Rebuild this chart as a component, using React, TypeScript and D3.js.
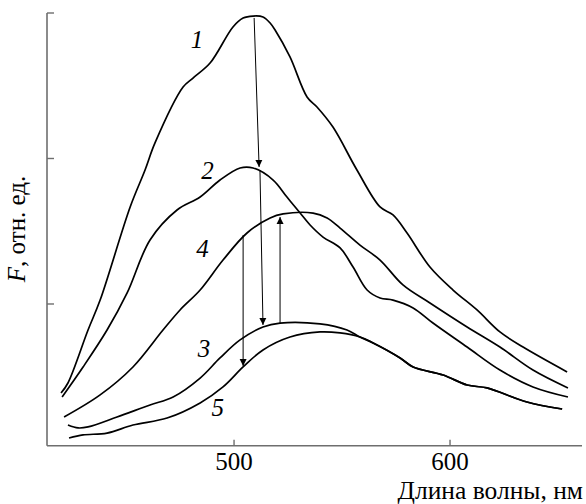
import React from "react";
import * as d3 from "d3";

// wavelength (nm) and fluorescence (rel. units) for curves 1..5
const wl1 = [419.9, 423.1, 432.4, 438.0, 451.9, 458.8, 463.4, 476.4, 481.0, 488.9, 499.5, 504.2, 508.8, 513.4, 516.7, 519.0, 525.9, 533.8, 538.4, 545.8, 556.9, 567.6, 573.6, 580.1, 590.7, 601.4, 612.5, 623.1, 633.8, 654.2];
const f1 = [0.388, 0.457, 0.821, 1.027, 1.667, 1.921, 2.107, 2.491, 2.553, 2.656, 2.904, 2.965, 2.979, 2.973, 2.931, 2.883, 2.698, 2.423, 2.354, 2.216, 1.921, 1.667, 1.612, 1.488, 1.254, 1.096, 0.959, 0.808, 0.704, 0.533];

const wl2 = [420.4, 430.1, 441.2, 450.5, 461.1, 473.6, 484.3, 493.5, 502.8, 508.8, 518.1, 524.5, 530.6, 535.2, 541.2, 549.1, 555.1, 561.6, 567.6, 573.6, 582.9, 592.1, 607.9, 623.1, 638.4, 654.6];
const f2 = [0.361, 0.567, 0.821, 1.076, 1.440, 1.646, 1.735, 1.852, 1.935, 1.935, 1.852, 1.735, 1.625, 1.543, 1.460, 1.385, 1.254, 1.096, 1.041, 1.027, 0.973, 0.869, 0.704, 0.546, 0.430, 0.361];

const wl3 = [423.1, 427.8, 432.4, 445.8, 461.1, 471.8, 484.3, 493.5, 502.8, 513.4, 521.3, 539.8, 552.3, 558.3, 564.4, 576.9, 582.9, 596.8, 607.9, 617.1, 635.6, 651.9];
const f3 = [0.168, 0.148, 0.155, 0.223, 0.306, 0.361, 0.491, 0.629, 0.753, 0.842, 0.869, 0.863, 0.821, 0.773, 0.732, 0.629, 0.567, 0.512, 0.443, 0.423, 0.326, 0.278];

const wl4 = [421.3, 438.0, 453.2, 467.1, 475.0, 484.3, 494.9, 506.0, 516.7, 522.7, 536.6, 543.1, 549.1, 558.3, 567.6, 578.2, 590.7, 607.9, 623.1, 638.4, 654.6];
const f4 = [0.223, 0.375, 0.567, 0.821, 0.959, 1.096, 1.302, 1.488, 1.591, 1.619, 1.625, 1.591, 1.522, 1.405, 1.302, 1.131, 1.007, 0.842, 0.704, 0.546, 0.423];

const wl5 = [423.6, 430.1, 441.2, 453.2, 469.0, 484.3, 494.9, 504.2, 513.4, 525.9, 539.8, 549.1, 558.3, 564.4, 576.9, 582.9, 596.8, 607.9, 617.1, 635.6, 651.9];
const f5 = [0.079, 0.100, 0.113, 0.168, 0.216, 0.320, 0.430, 0.567, 0.684, 0.773, 0.808, 0.801, 0.773, 0.732, 0.629, 0.567, 0.512, 0.443, 0.423, 0.326, 0.278];

const curveNames = ["1", "2", "3", "4", "5"];
// label anchor: [wavelength, value] (center x, baseline)
const labelWl = [482.9, 487.7, 486.1, 485.4, 492.4];
const labelF = [2.759, 1.859, 0.636, 1.323, 0.23];

// arrows: start and end points
const arrowX1 = [509.3, 512.0, 521.3, 504.2];
const arrowY1 = [2.966, 1.921, 0.869, 1.474];
const arrowX2 = [511.6, 513.4, 521.3, 504.2];
const arrowY2 = [1.942, 0.856, 1.598, 0.574];

const xTicks = [500, 600];
const yTicks = [1, 2, 3];

const W = 586;
const H = 504;

export default function App() {
  const x = d3.scaleLinear().domain([413.4, 661.1]).range([47, 582]);
  const y = d3.scaleLinear().domain([0.026, 3]).range([445.7, 13]);

  const series = [
    [wl1, f1],
    [wl2, f2],
    [wl3, f3],
    [wl4, f4],
    [wl5, f5],
  ];
  const line = d3
    .line<[number, number]>()
    .x((d) => x(d[0]))
    .y((d) => y(d[1]))
    .curve(d3.curveCatmullRom.alpha(0.5));

  const serif = "'Liberation Serif', 'Times New Roman', serif";
  const axisColor = "#6e6e6e";

  return (
    <svg
      width={W}
      height={H}
      style={{ position: "absolute", left: 0, top: 0, background: "#fff" }}
    >
      <defs>
        <marker
          id="ah"
          viewBox="0 0 10 10"
          refX="10"
          refY="5"
          markerWidth="7"
          markerHeight="9"
          markerUnits="userSpaceOnUse"
          orient="auto"
        >
          <path d="M0,0 L10,5 L0,10 z" fill="#000" />
        </marker>
      </defs>

      {/* axes */}
      <line x1={x.range()[0]} x2={x.range()[0]} y1={y(3)} y2={y.range()[0]} stroke={axisColor} strokeWidth={1.6} />
      <line x1={x.range()[0]} x2={x.range()[1]} y1={y.range()[0]} y2={y.range()[0]} stroke={axisColor} strokeWidth={1.6} />
      {yTicks.map((t) => (
        <line key={"yt" + t} x1={x.range()[0]} x2={x.range()[0] + 7} y1={y(t)} y2={y(t)} stroke={axisColor} strokeWidth={1.4} />
      ))}
      {xTicks.map((t) => (
        <g key={"xt" + t}>
          <line x1={x(t)} x2={x(t)} y1={y.range()[0]} y2={y.range()[0] - 6} stroke={axisColor} strokeWidth={1.4} />
          <text x={x(t)} y={470} textAnchor="middle" fontFamily={serif} fontSize={25} fill="#000">
            {t}
          </text>
        </g>
      ))}
      <text x={583} y={499} textAnchor="end" fontFamily={serif} fontSize={25.5} fill="#000">
        Длина волны, нм
      </text>
      <text
        transform="translate(25,229) rotate(-90)"
        textAnchor="middle"
        fontFamily={serif}
        fontSize={25}
        fill="#000"
      >
        <tspan fontStyle="italic">F</tspan>, отн. ед.
      </text>

      {/* curves */}
      {series.map(([wl, f], i) => (
        <path
          key={"c" + i}
          d={line(wl.map((w, j) => [w, f[j]] as [number, number])) || ""}
          fill="none"
          stroke="#000"
          strokeWidth={1.7}
        />
      ))}

      {/* arrows */}
      {arrowX1.map((ax, i) => (
        <line
          key={"a" + i}
          x1={x(ax)}
          y1={y(arrowY1[i])}
          x2={x(arrowX2[i])}
          y2={y(arrowY2[i])}
          stroke="#000"
          strokeWidth={1}
          markerEnd="url(#ah)"
        />
      ))}

      {/* curve labels */}
      {curveNames.map((n, i) => (
        <text
          key={"l" + n}
          x={x(labelWl[i])}
          y={y(labelF[i])}
          textAnchor="middle"
          fontFamily={serif}
          fontStyle="italic"
          fontSize={25}
          fill="#000"
        >
          {n}
        </text>
      ))}
    </svg>
  );
}
